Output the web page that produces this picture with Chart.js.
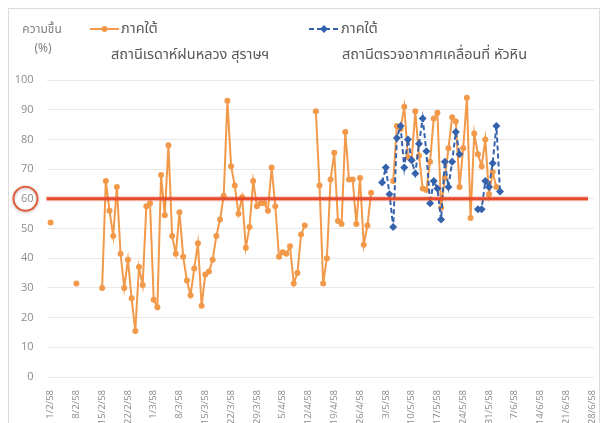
<!DOCTYPE html>
<html>
<head>
<meta charset="utf-8">
<script src="https://cdn.jsdelivr.net/npm/chart.js@4/dist/chart.umd.min.js"></script>
<style>
  body { margin: 0; background: #fff; font-family: "Noto Sans Thai", "Noto Sans", "DejaVu Sans", sans-serif; }
  #wrap { position: relative; width: 609px; height: 423px; overflow: hidden; }
  #frame { position: absolute; left: 8px; top: 8px; width: 592px; height: 430px; border: 1px solid #dcdcdc; box-sizing: border-box; }
  canvas { position: absolute; left: 0; top: 0; }
  .t { position: absolute; white-space: nowrap; line-height: 1; }
  .ytitle { font-size: 12px; color: #808080; transform: translate(-50%, -50%); }
  .leg { font-size: 14.5px; color: #595959; transform: translateY(-50%); }
  svg { position: absolute; left: 0; top: 0; }
</style>
</head>
<body>
<div id="wrap">
  <div id="frame"></div>
  <canvas id="humidityChart" width="609" height="423"></canvas>
  <div class="t ytitle" style="left:42px; top:29px;">ความชื้น</div>
  <div class="t ytitle" style="left:43px; top:48px;">(%)</div>
  <svg width="609" height="80">
    <line x1="90" y1="29" x2="119" y2="29" stroke="#F2994A" stroke-width="2"/>
    <circle cx="104.5" cy="29" r="3" fill="#F2994A"/>
    <line x1="309" y1="29" x2="339" y2="29" stroke="#3462AC" stroke-width="2" stroke-dasharray="5,3"/>
    <polygon points="324,25 328,29 324,33 320,29" fill="#3462AC"/>
  </svg>
  <div class="t leg" style="left:121px; top:29px;">ภาคใต้</div>
  <div class="t leg" style="left:111px; top:55px;">สถานีเรดาห์ฝนหลวง สุราษฯ</div>
  <div class="t leg" style="left:341px; top:29px;">ภาคใต้</div>
  <div class="t leg" style="left:342px; top:55px;">สถานีตรวจอากาศเคลื่อนที่ หัวหิน</div>
</div>
<script>
// ป้ายแกน x (ทุก 7 วัน เริ่ม 1/2/58)
const tickLabels = ['1/2/58', '8/2/58', '15/2/58', '22/2/58', '1/3/58', '8/3/58', '15/3/58', '22/3/58',
    '29/3/58', '5/4/58', '12/4/58', '19/4/58', '26/4/58', '3/5/58', '10/5/58', '17/5/58',
    '24/5/58', '31/5/58', '7/6/58', '14/6/58', '21/6/58', '28/6/58'];

// ความชื้น (%) สถานีเรดาห์ฝนหลวง สุราษฯ — รายวัน เริ่มวันที่ 1/2/58
const suratStart = 0;
const suratHumidity = [
    52, null, null, null, null, null, null, 31.5, null, null, null, null, null, null,
    30, 66, 56, 47.5, 64, 41.5, 30, 39.5, 26.5, 15.5, 37, 31, 57.5, 58.5,
    26, 23.5, 68, 54.5, 78, 47.5, 41.5, 55.5, 40.5, 32.5, 27.5, 36.5, 45, 24,
    34.5, 35.5, 39.5, 47.5, 53, 61, 93, 71, 64.5, 55, 60.5, 43.5, 50.5, 66,
    57.5, 58.5, 58.5, 56, 70.5, 57.5, 40.5, 42, 41.5, 44, 31.5, 35, 48, 51,
    null, null, 89.5, 64.5, 31.5, 40, 66.5, 75.5, 52.5, 51.5, 82.5, 66.5, 66.5, 51.5,
    67, 44.5, 51, 62, null, null, null, null, null, 66, 84.5, 83.5, 91, 74,
    73, 89.5, 74.5, 63.5, 63, 72.5, 87, 89, 57, 67, 77, 87.5, 86, 64,
    77, 94, 53.5, 82, 75, 71, 80, 61.5, 69, 64
];

// ความชื้น (%) สถานีตรวจอากาศเคลื่อนที่ หัวหิน — เริ่มวันที่ 1/5/58
const huahinStart = 89;
const huahinHumidity = [
    null, 65.5, 70.5, 61.5, 50.5, 80.5, 84.5, 70.5, 80, 73, 68.5, 78.5, 87, 76,
    58.5, 66, 63.5, 53, 72.5, 64, 72.5, 82.5, 75, null, null, null, null, 56.5,
    56.5, 66, 64, 72, 84.5, 62.5
];

const threshold = 60;

const orange = '#F2994A';
const blue = '#3462AC';

function toPoints(start, values) {
    return values.map((v, i) => ({ x: start + i, y: v }));
}

// เส้นเกณฑ์ 60% และวงกลมรอบป้าย 60
const thresholdPlugin = {
    id: 'threshold',
    afterDatasetsDraw(chart) {
        const { ctx, chartArea, scales } = chart;
        const y = scales.y.getPixelForValue(threshold);
        ctx.save();
        ctx.strokeStyle = 'rgba(232, 80, 47, 0.3)';
        ctx.lineWidth = 5;
        ctx.beginPath();
        ctx.moveTo(chartArea.left, y);
        ctx.lineTo(chartArea.right - 6, y);
        ctx.stroke();
        ctx.strokeStyle = '#E64B2D';
        ctx.lineWidth = 3;
        ctx.stroke();

        ctx.strokeStyle = '#E2603F';
        ctx.lineWidth = 2;
        ctx.shadowColor = 'rgba(0,0,0,0.25)';
        ctx.shadowBlur = 3;
        ctx.shadowOffsetY = 1;
        ctx.beginPath();
        ctx.arc(chartArea.left - 21, y, 12, 0, Math.PI * 2);
        ctx.stroke();
        ctx.restore();
    }
};

const ctx = document.getElementById('humidityChart').getContext('2d');
new Chart(ctx, {
    type: 'line',
    data: {
        datasets: [{
            label: 'ภาคใต้ สถานีตรวจอากาศเคลื่อนที่ หัวหิน',
            data: toPoints(huahinStart, huahinHumidity),
            borderColor: blue,
            backgroundColor: blue,
            borderWidth: 2,
            borderDash: [5, 3],
            pointStyle: 'rectRot',
            pointRadius: 4,
            pointBorderWidth: 0,
            pointBackgroundColor: blue,
            tension: 0,
            order: 0
        }, {
            label: 'ภาคใต้ สถานีเรดาห์ฝนหลวง สุราษฯ',
            data: toPoints(suratStart, suratHumidity),
            borderColor: orange,
            backgroundColor: orange,
            borderWidth: 2,
            pointRadius: 3,
            pointBorderWidth: 0,
            pointBackgroundColor: orange,
            tension: 0,
            order: 1
        }]
    },
    options: {
        responsive: false,
        animation: false,
        layout: { padding: { top: 80, right: 15, left: 0, bottom: 0 } },
        plugins: {
            legend: { display: false },
            tooltip: { enabled: false }
        },
        scales: {
            x: {
                type: 'linear',
                min: -1.1,
                max: 147.5,
                grid: { display: false },
                border: { display: false },
                afterBuildTicks: axis => {
                    axis.ticks = tickLabels.map((t, i) => ({ value: i * 7 }));
                },
                afterFit: axis => { axis.height = 46; },
                ticks: {
                    callback: v => tickLabels[Math.round(v / 7)],
                    minRotation: 90,
                    maxRotation: 90,
                    autoSkip: false,
                    padding: 5,
                    color: '#8c8c8c',
                    font: { family: 'Open Sans', size: 9.5 }
                }
            },
            y: {
                min: 0,
                max: 100,
                afterFit: axis => { axis.width = 46.5; },
                border: { display: false },
                grid: { color: '#e8e8e8', drawTicks: false },
                ticks: {
                    stepSize: 10,
                    padding: 13,
                    color: '#8c8c8c',
                    font: { family: 'Open Sans', size: 11 }
                }
            }
        }
    },
    plugins: [thresholdPlugin]
});
</script>
</body>
</html>
